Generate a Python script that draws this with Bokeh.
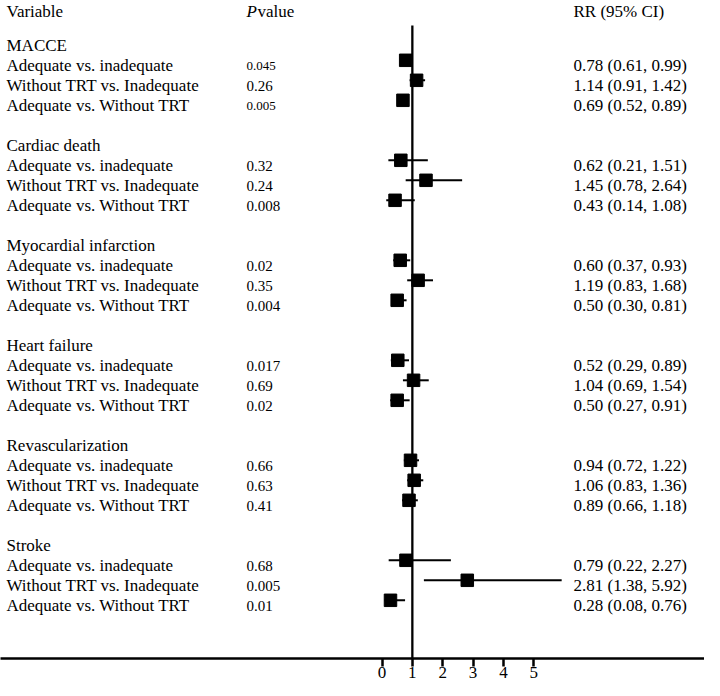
from bokeh.plotting import figure
from bokeh.models import Range1d, LinearAxis, FixedTicker
from bokeh.core.properties import value
from bokeh.embed import file_html
from bokeh.resources import INLINE

# ---------------- data ----------------
groups = ["MACCE", "Cardiac death", "Myocardial infarction",
          "Heart failure", "Revascularization", "Stroke"]
comparisons = ["Adequate vs. inadequate", "Without TRT vs. Inadequate",
               "Adequate vs. Without TRT"]
rr = [0.78, 1.14, 0.69,
      0.62, 1.45, 0.43,
      0.60, 1.19, 0.50,
      0.52, 1.04, 0.50,
      0.94, 1.06, 0.89,
      0.79, 2.81, 0.28]
ci_low = [0.61, 0.91, 0.52,
          0.21, 0.78, 0.14,
          0.37, 0.83, 0.30,
          0.29, 0.69, 0.27,
          0.72, 0.83, 0.66,
          0.22, 1.38, 0.08]
ci_high = [0.99, 1.42, 0.89,
           1.51, 2.64, 1.08,
           0.93, 1.68, 0.81,
           0.89, 1.54, 0.91,
           1.22, 1.36, 1.18,
           2.27, 5.92, 0.76]
p_values = ["0.045", "0.26", "0.005",
            "0.32", "0.24", "0.008",
            "0.02", "0.35", "0.004",
            "0.017", "0.69", "0.02",
            "0.66", "0.63", "0.41",
            "0.68", "0.005", "0.01"]
x_ticks = [0, 1, 2, 3, 4, 5]
null_value = 1

# ---------------- layout constants ----------------
FONT = "Liberation Serif"
FS = "17px"
W, H = 704, 680
PAGE = 8
ZERO_PX, UNIT_PX = 389.5, 30.35      # page x of value 0, px per unit
ROW0_PX, ROW_PX = 47.8, 20.0         # page y of row 0 centre, px per row
AXIS_PX = 666
BASE = 5.6 / ROW_PX                  # text baseline offset in rows

x_start = (PAGE - ZERO_PX) / UNIT_PX
x_end = (PAGE + W - ZERO_PX) / UNIT_PX
y_top = (PAGE - ROW0_PX) / ROW_PX
y_bottom = (AXIS_PX - ROW0_PX) / ROW_PX

p = figure(width=W, height=H,
           x_range=Range1d(x_start, x_end), y_range=Range1d(y_bottom, y_top),
           output_backend="svg", toolbar_location=None,
           x_axis_location=None, y_axis_location=None,
           min_border_left=0, min_border_right=0, min_border_top=0,
           min_border_bottom=H - (AXIS_PX - PAGE))
p.extra_x_ranges = {"px": Range1d(PAGE, PAGE + W)}
p.grid.visible = False
p.outline_line_color = None
p.background_fill_color = "white"
p.border_fill_color = "white"

# rows
label_text, label_y = [], []
item_y = []
for g, name in enumerate(groups):
    label_text.append(name)
    label_y.append(5 * g + BASE)
    for k, comp in enumerate(comparisons):
        label_text.append(comp)
        label_y.append(5 * g + 1 + k + BASE)
        item_y.append(5 * g + 1 + k)

rr_text = [f"{r:.2f} ({lo:.2f}, {hi:.2f})" for r, lo, hi in zip(rr, ci_low, ci_high)]
p_size = ["13px" if len(s) == 5 and i // 3 == 0 else "15px"
          for i, s in enumerate(p_values)]


def add_text(xs, ys, texts, sizes, style="normal"):
    p.text(x=xs, y=ys, text=texts, text_font_size=sizes,
           text_font=[FONT] * len(texts), text_font_style=[style] * len(texts),
           text_color="black", text_baseline="alphabetic", text_align="left",
           x_range_name="px")


# headers
hdr_y = -1.7 + BASE
add_text([14, 265, 581], [hdr_y] * 3, ["Variable", "value", "RR (95% CI)"], [FS] * 3)
add_text([254], [hdr_y], ["P"], [FS], style="italic")

# left labels
add_text([14] * len(label_text), label_y, label_text, [FS] * len(label_text))
# p values
add_text([254] * len(p_values), [y + BASE for y in item_y], p_values, p_size)
# RR text
add_text([581] * len(rr_text), [y + BASE for y in item_y], rr_text, [FS] * len(rr_text))

# reference line at null value
p.segment(x0=[null_value], y0=[(33 - ROW0_PX) / ROW_PX], x1=[null_value], y1=[y_bottom],
          line_color="black", line_width=2.3)
# CIs
p.segment(x0=ci_low, y0=item_y, x1=ci_high, y1=item_y, line_color="black", line_width=2)
# squares
p.scatter(x=rr, y=item_y, marker="square", size=12.5, fill_color="black",
          line_color="black")

ax = LinearAxis(ticker=FixedTicker(ticks=x_ticks),
                axis_line_width=2.5, axis_line_color="black",
                major_tick_line_width=2.5, major_tick_line_color="black",
                major_tick_out=8, major_tick_in=0,
                minor_tick_out=0, minor_tick_in=0,
                major_label_standoff=0,
                major_label_text_font=FONT,
                major_label_text_font_size=FS,
                major_label_text_color="black")
p.add_layout(ax, "below")

open("out.html", "w").write(file_html(p, INLINE))
